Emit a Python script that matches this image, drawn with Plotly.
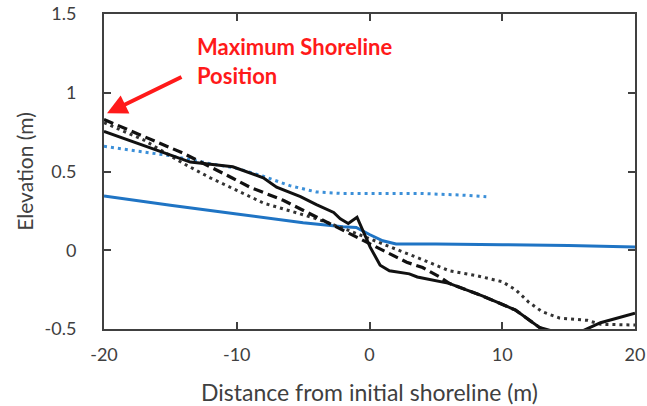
import plotly.graph_objects as go

# Black solid profile
solid_x = [-20, -15, -13.5, -10.3, -8, -7, -5.2, -4, -2.7, -2.2, -1.6, -0.94, -0.35, 0.05, 0.8, 1.5, 3, 3.6, 6, 8.5, 11, 12.8, 14.5, 16.1, 17.4, 20]
solid_y = [0.755, 0.605, 0.56, 0.53, 0.46, 0.40, 0.34, 0.29, 0.24, 0.20, 0.17, 0.21, 0.095, 0.02, -0.095, -0.13, -0.15, -0.17, -0.21, -0.29, -0.38, -0.49, -0.53, -0.51, -0.46, -0.40]

# Black dashed profile
dash_x = [-20, -14, -10.3, -9, -6.5, -4, -2, -0.2, 1.5, 2.8, 4, 5.3, 6, 8.5, 11, 12.8, 14]
dash_y = [0.83, 0.615, 0.457, 0.40, 0.317, 0.21, 0.127, 0.05, -0.02, -0.076, -0.11, -0.17, -0.21, -0.29, -0.38, -0.49, -0.55]

# Black dotted profile
dot_x = [-20, -17, -14, -12, -10, -8, -6, -4, -2, 0, 2, 4, 6, 8, 10, 11, 12, 13, 14.3, 16.4, 17.4, 20]
dot_y = [0.81, 0.70, 0.55, 0.46, 0.38, 0.30, 0.25, 0.20, 0.14, 0.075, 0.01, -0.06, -0.13, -0.16, -0.20, -0.25, -0.33, -0.39, -0.43, -0.445, -0.47, -0.475]

# Blue solid profile
blue_x = [-20, -15, -10, -5, -2, -1, 0, 1, 2, 5, 10, 15, 20]
blue_y = [0.345, 0.285, 0.23, 0.175, 0.15, 0.145, 0.10, 0.06, 0.04, 0.04, 0.035, 0.03, 0.02]

# Blue dotted profile
bdot_x = [-20, -15, -12, -10, -8, -6, -4, -2, 0, 4, 7, 8.8]
bdot_y = [0.66, 0.60, 0.55, 0.52, 0.47, 0.41, 0.37, 0.36, 0.36, 0.36, 0.35, 0.34]

x_ticks = [-20, -10, 0, 10, 20]
x_labels = ["-20", "-10", "0", "10", "20"]
y_ticks = [-0.5, 0, 0.5, 1, 1.5]
y_labels = ["-0.5", "0", "0.5", "1", "1.5"]

FONT = "Lato"
GREY = "#404040"

fig = go.Figure()
fig.add_trace(go.Scatter(x=blue_x, y=blue_y, mode="lines",
                         line=dict(color="#1f74c4", width=3)))
fig.add_trace(go.Scatter(x=bdot_x, y=bdot_y, mode="lines",
                         line=dict(color="#3b8fd8", width=3, dash="3px,4px")))
fig.add_trace(go.Scatter(x=dot_x, y=dot_y, mode="lines",
                         line=dict(color="#333333", width=3, dash="3px,4px")))
fig.add_trace(go.Scatter(x=dash_x, y=dash_y, mode="lines",
                         line=dict(color="#111111", width=3.2, dash="10px,5px")))
fig.add_trace(go.Scatter(x=solid_x, y=solid_y, mode="lines",
                         line=dict(color="#111111", width=3)))

fig.add_annotation(x=-19.77, y=0.87, ax=-14.05, ay=1.105, axref="x", ayref="y",
                   xref="x", yref="y", text="", showarrow=True,
                   arrowhead=2, arrowsize=1, arrowwidth=4, arrowcolor="#ff1a1a")
fig.add_annotation(x=-13.15, y=1.203, xref="x", yref="y", xanchor="left", yanchor="middle",
                   text="<b>Maximum Shoreline<br>Position</b>", showarrow=False, align="left",
                   font=dict(family=FONT, size=22, color="#ff1a1a"))

fig.update_layout(
    width=647, height=406,
    margin=dict(l=104, r=12, t=14, b=77),
    plot_bgcolor="white", paper_bgcolor="white",
    showlegend=False,
    font=dict(family=FONT, color=GREY),
)
fig.update_xaxes(range=[-20, 20], tickvals=x_ticks, ticktext=x_labels,
                 ticks="inside", ticklen=7, tickwidth=2, tickcolor=GREY,
                 showline=True, linewidth=2, linecolor=GREY, mirror="ticks",
                 showgrid=False, zeroline=False, automargin=False,
                 ticklabelstandoff=8, ticklabeloverflow="allow",
                 tickfont=dict(family=FONT, size=18, color=GREY),
                 title=dict(text="Distance from initial shoreline (m)",
                            font=dict(family=FONT, size=23, color=GREY), standoff=30))
fig.update_yaxes(range=[-0.5, 1.5], tickvals=y_ticks, ticktext=y_labels,
                 ticks="inside", ticklen=7, tickwidth=2, tickcolor=GREY,
                 showline=True, linewidth=2, linecolor=GREY, mirror="ticks",
                 showgrid=False, zeroline=False, automargin=False,
                 ticklabelstandoff=22, ticklabeloverflow="allow",
                 tickfont=dict(family=FONT, size=18, color=GREY),
                 title=dict(text="Elevation (m)",
                            font=dict(family=FONT, size=21, color=GREY), standoff=5))

# remove the browser's default 8px body margin so the 647x406 figure fills the window
fig.write_html("out.html", config={"displayModeBar": False},
               post_script="document.body.style.margin='0';")
